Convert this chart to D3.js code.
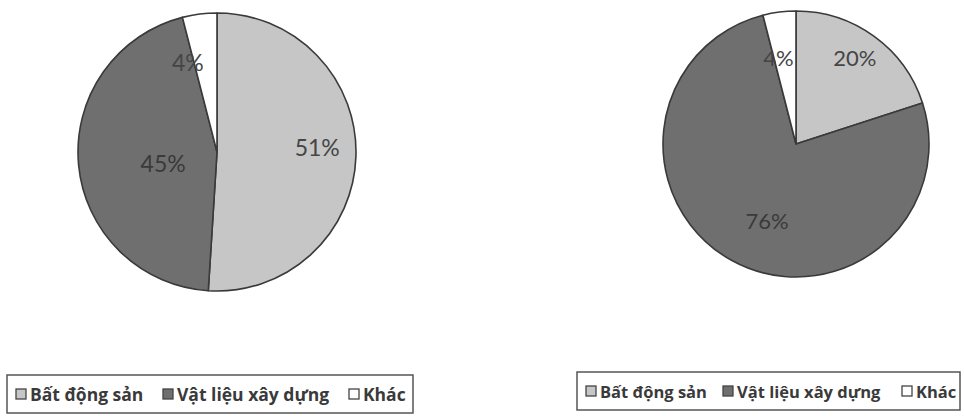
<!DOCTYPE html>
<html>
<head>
<meta charset="utf-8">
<style>
  body { margin: 0; background: #fff; }
  svg { display: block; }
</style>
</head>
<body>
<svg id="chart" width="964" height="416" viewBox="0 0 964 416" xmlns="http://www.w3.org/2000/svg"></svg>
<script src="https://cdn.jsdelivr.net/npm/d3@7"></script>
<script>

// categories and values (percent)
const categories = ["Bất động sản", "Vật liệu xây dựng", "Khác"];
const leftValues = [51, 45, 4];
const rightValues = [20, 76, 4];

const colors = ["#c6c6c6", "#6f6f6f", "#ffffff"];
const outline = "#3a3a3a";

const svg = d3.select("#chart");

// label nudges so the text sits where Excel put it
const leftNudge = [[3, -8], [43, 2], [-17, 7]];
const rightNudge = [[4, -11], [16, -5], [-6, 6]];

function drawPie(values, cfg) {
  const g = svg.append("g").attr("transform", `translate(${cfg.cx},${cfg.cy})`);

  const pie = d3.pie().sort(null).value(d => d);
  const arcs = pie(values);

  const arc = d3.arc().innerRadius(0).outerRadius(cfg.r);
  const labelArc = d3.arc().innerRadius(cfg.r * 0.7).outerRadius(cfg.r * 0.7);

  g.selectAll("path.slice")
    .data(arcs)
    .join("path")
    .attr("class", "slice")
    .attr("d", arc)
    .attr("fill", (d, i) => colors[i])
    .attr("stroke", outline)
    .attr("stroke-width", 1.6)
    .attr("stroke-linejoin", "round");

  g.selectAll("text.lbl")
    .data(arcs)
    .join("text")
    .attr("class", "lbl")
    .attr("x", (d, i) => labelArc.centroid(d)[0] + cfg.nudge[i][0])
    .attr("y", (d, i) => labelArc.centroid(d)[1] + cfg.nudge[i][1])
    .attr("text-anchor", "middle")
    .attr("dominant-baseline", "central")
    .attr("font-family", "Lato, 'Open Sans', sans-serif")
    .attr("font-size", cfg.fontSize + "px")
    .attr("fill", (d, i) => i === 1 ? "#3a3a3a" : "#454545")
    .text(d => d.data + "%");
}

function drawLegend(cfg) {
  const g = svg.append("g");
  g.append("rect")
    .attr("x", cfg.x)
    .attr("y", cfg.y)
    .attr("width", cfg.w)
    .attr("height", cfg.h)
    .attr("fill", "#fff")
    .attr("stroke", "#555")
    .attr("stroke-width", 1.5);

  const midY = cfg.y + cfg.h / 2;
  categories.forEach((c, i) => {
    const x = cfg.itemX[i];
    g.append("rect")
      .attr("x", x)
      .attr("y", midY - cfg.box / 2)
      .attr("width", cfg.box)
      .attr("height", cfg.box)
      .attr("fill", colors[i])
      .attr("stroke", "#444")
      .attr("stroke-width", 1.3);
    g.append("text")
      .attr("x", x + cfg.box + 4)
      .attr("y", midY)
      .attr("dominant-baseline", "central")
      .attr("font-family", "'Open Sans', Lato, sans-serif")
      .attr("font-weight", "bold")
      .attr("font-size", cfg.fontSize + "px")
      .attr("fill", "#3a3a3a")
      .text(c);
  });
}

drawPie(leftValues, { cx: 217, cy: 152, r: 139, fontSize: 23, nudge: leftNudge });
drawPie(rightValues, { cx: 796, cy: 144, r: 133, fontSize: 22, nudge: rightNudge });

drawLegend({ x: 7, y: 375, w: 406, h: 38, itemX: [16, 163, 349], box: 10, fontSize: 17.5 });
drawLegend({ x: 577, y: 372, w: 383, h: 38, itemX: [586, 723, 902], box: 10, fontSize: 16.5 });
</script>
</body>
</html>
